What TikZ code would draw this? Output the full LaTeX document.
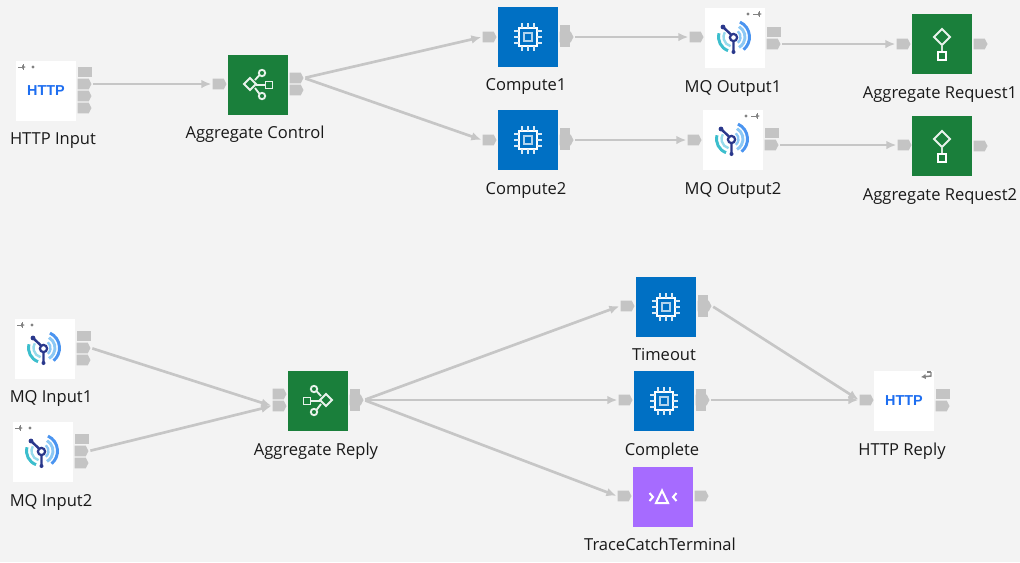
\documentclass[tikz,border=0pt]{standalone}
\usepackage{fontspec}
\setmainfont{Open Sans}
\newfontfamily\httpfont{Liberation Sans}
\usetikzlibrary{arrows.meta}
\usetikzlibrary{shapes.symbols}
\definecolor{bgcol}{RGB}{243,243,243}
\definecolor{termcol}{RGB}{196,196,196}
\definecolor{wirecol}{RGB}{198,198,198}
\definecolor{greencol}{RGB}{26,127,59}
\definecolor{bluecol}{RGB}{0,112,196}
\definecolor{purplecol}{RGB}{166,107,255}
\definecolor{navycol}{RGB}{42,56,140}
\definecolor{httpcol}{RGB}{30,110,240}
\definecolor{markcol}{RGB}{130,130,130}
\definecolor{arcouter}{RGB}{74,148,240}
\definecolor{arcinner}{RGB}{140,200,245}
\definecolor{arcteal}{RGB}{60,190,205}
\definecolor{arcpale}{RGB}{150,218,235}
\tikzset{every picture/.style={line width=0.75pt}}
\tikzset{
  every pic/.style={yscale=-1},
  box/.style={minimum size=45pt,inner sep=0pt,draw=none},
  whitebox/.style={box,fill=white},
  greenbox/.style={box,fill=greencol},
  bluebox/.style={box,fill=bluecol},
  purplebox/.style={box,fill=purplecol},
  termptr/.style={signal,signal to=east,signal pointer angle=125,fill=termcol,draw=none,inner sep=0pt,minimum width=10.5pt,minimum height=8pt,anchor=west},
  termsq/.style={fill=termcol,draw=none,inner sep=0pt,minimum width=10.5pt,minimum height=7.5pt,anchor=west},
  termblk/.style={fill=termcol,draw=none,inner sep=0pt,minimum width=7.5pt,minimum height=16.5pt,anchor=west},
  wire/.style={draw=wirecol,line width=2pt,-{Latex[length=7.5pt,width=6.5pt]},shorten >=0.5pt,shorten <=1pt},
  lbl/.style={inner sep=0pt,anchor=base,font=\fontsize{12.4}{15}\selectfont,text=black!90},
  httplbl/.style={inner sep=0pt,font=\httpfont\bfseries\fontsize{10.8}{13}\selectfont,text=httpcol},
  cpuicon/.pic={
    \draw[white,line width=1.3pt] (-9,-9) rectangle (9,9);
    \draw[white!70!bluecol,line width=1.8pt] (-4,-4) rectangle (4,4);
    \foreach \p in {-6,0,6} {
      \draw[white!85!bluecol,line width=1.3pt] (\p,-9) -- (\p,-14) (\p,9) -- (\p,14) (-9,\p) -- (-14,\p) (9,\p) -- (14,\p);
    }
  },
  aggicon/.pic={
    \draw[white!90!greencol,line width=1.4pt] (-8,-7) -- (-2,-1) -- (-8,5) -- (-14,-1) -- cycle;
    \draw[white!90!greencol,line width=1.4pt] (-3,-5) -- (1.5,-10) (-2,0) -- (7,0) (-3,3) -- (1.5,9);
    \draw[white!90!greencol,line width=1.4pt] (4,-12) circle (3.2) (4,11) circle (3.2);
    \draw[white!90!greencol,line width=1.4pt] (7.5,-3.5) rectangle (14.5,3.5);
  },
  reqicon/.pic={
    \draw[white!90!greencol,line width=1.4pt] (0,-15) -- (8,-7) -- (0,1) -- (-8,-7) -- cycle;
    \draw[white!80!greencol,line width=1.4pt] (0,1) -- (0,8);
    \draw[white,line width=1.4pt] (-3.8,8) rectangle (3.8,16);
  },
  traceicon/.pic={
    \draw[white,line width=1.5pt] (-1,-6.5) -- (5,6) -- (-7,6) -- cycle;
    \draw[white,line width=1.5pt] (-13.5,-4) -- (-10,0) -- (-13.5,4) (13.5,-4) -- (10,0) -- (13.5,4);
  },
  mqicon/.pic={
    \draw[arcouter,line width=2.2pt] (-2,-1) ++(-65:16.5) arc[start angle=-65,end angle=50,radius=16.5];
    \draw[arcinner,line width=2.2pt] (-2,-1) ++(-60:12) arc[start angle=-60,end angle=60,radius=12];
    \draw[arcinner,line width=1.8pt] (-2,-1) ++(-50:7.5) arc[start angle=-50,end angle=50,radius=7.5];
    \draw[arcteal,line width=2.2pt] (-2,-1) ++(110:14.5) arc[start angle=110,end angle=195,radius=14.5];
    \draw[arcpale,line width=1.8pt] (-2,-1) ++(105:9.5) arc[start angle=105,end angle=210,radius=9.5];
    \draw[navycol,line width=1.8pt] (-4,-3.5) -- (-12,-11) (-1.5,3) -- (-1.5,14);
    \fill[navycol] (-12,-11) circle (2.4) (-1.5,14) circle (2);
    \draw[navycol,fill=white,line width=1.7pt] (-1.5,-0.5) circle (3.6);
  },
  inmark/.pic={
    \draw[markcol,line width=0.7pt,-{Latex[length=3pt,width=3pt]}] (-28,-24) -- (-20,-24);
    \draw[markcol,line width=0.7pt] (-23,-27) -- (-23,-21);
    \fill[markcol] (-13,-24) circle (1.7);
  },
  outmark/.pic={
    \fill[markcol] (13,-24) circle (1.7);
    \draw[markcol,line width=0.7pt,-{Latex[length=3pt,width=3pt]}] (18,-24) -- (27,-24);
    \draw[markcol,line width=0.7pt] (24,-27) -- (24,-21);
  },
  replymark/.pic={
    \draw[markcol,line width=1.1pt,-{Latex[length=3.5pt,width=4pt]}] (27,-29) -- (27,-25) -- (17,-24);
    \draw[markcol,line width=1.1pt] (27,-29) -- (23,-29);
  }
}

\begin{document}
\begin{tikzpicture}[x=0.75pt,y=0.75pt,yscale=-1,xscale=1]
\useasboundingbox (0,0) rectangle (1020,562);
\fill[bgcol] (0,0) rectangle (1020,562);

%Shape: Square boxes
\node[whitebox] (httpin) at (46,91) {};
\node[greenbox] (aggctl) at (258,85) {};
\node[bluebox] (comp1) at (528,37) {};
\node[bluebox] (comp2) at (528,140) {};
\node[whitebox] (mqout1) at (735,38) {};
\node[whitebox] (mqout2) at (733,140) {};
\node[greenbox] (aggreq1) at (942,44) {};
\node[greenbox] (aggreq2) at (942,146) {};
\node[whitebox] (mqin1) at (45,349) {};
\node[whitebox] (mqin2) at (43,452) {};
\node[greenbox] (aggrep) at (318,401) {};
\node[bluebox] (tmout) at (666,307) {};
\node[bluebox] (compl) at (664,401) {};
\node[purplebox] (trace) at (663,497) {};
\node[whitebox] (httprep) at (904,401) {};

%Shape: Icons
\node[httplbl] (httpintxt) at (46,91) {HTTP};
\node[httplbl] (httpreptxt) at (904,401) {HTTP};
\pic at (httpin) {inmark};
\pic at (httprep) {replymark};
\pic at (aggctl) {aggicon};
\pic[xscale=-1] at (aggrep) {aggicon};
\pic at (comp1) {cpuicon};
\pic at (comp2) {cpuicon};
\pic at (tmout) {cpuicon};
\pic at (compl) {cpuicon};
\pic at (mqout1) {mqicon};
\pic at (mqout1) {outmark};
\pic at (mqout2) {mqicon};
\pic at (mqout2) {outmark};
\pic at (mqin1) {mqicon};
\pic at (mqin1) {inmark};
\pic at (mqin2) {mqicon};
\pic at (mqin2) {inmark};
\pic at (aggreq1) {reqicon};
\pic at (aggreq2) {reqicon};
\pic at (trace) {traceicon};

%Shape: Terminals
\node[termsq] (httpin_a) at (77,72) {};
\node[termptr] (httpin_b) at (77,84) {};
\node[termptr] (httpin_c) at (77,96) {};
\node[termptr] (httpin_d) at (77,108) {};
\node[termptr] (aggctl_i) at (212,84) {};
\node[termptr] (aggctl_a) at (289,78) {};
\node[termptr] (aggctl_b) at (289,90) {};
\node[termptr] (comp1_i) at (482,37) {};
\node[termblk] at (559,36) {};
\node[termptr] (comp1_o) at (559,37) {};
\node[termptr] (comp2_i) at (482,140) {};
\node[termblk] at (559,139) {};
\node[termptr] (comp2_o) at (559,140) {};
\node[termptr] (mqout1_i) at (689,37) {};
\node[termsq] (mqout1_a) at (766,32) {};
\node[termptr] (mqout1_b) at (766,44) {};
\node[termptr] (mqout2_i) at (687,140) {};
\node[termsq] (mqout2_a) at (764,133) {};
\node[termptr] (mqout2_b) at (764,145) {};
\node[termptr] (aggreq1_i) at (896,44) {};
\node[termptr] (aggreq1_o) at (973,44) {};
\node[termptr] (aggreq2_i) at (897,145) {};
\node[termptr] (aggreq2_o) at (973,146) {};
\node[termsq] (mqin1_a) at (76,336) {};
\node[termptr] (mqin1_b) at (76,348) {};
\node[termptr] (mqin1_c) at (76,360) {};
\node[termsq] (mqin2_a) at (74,439) {};
\node[termptr] (mqin2_b) at (74,451) {};
\node[termptr] (mqin2_c) at (74,463) {};
\node[termptr] (aggrep_a) at (272,394) {};
\node[termptr] (aggrep_b) at (272,406) {};
\node[termblk] at (349,400) {};
\node[termptr] (aggrep_o) at (349,400) {};
\node[termptr] (tmout_i) at (620,306) {};
\node[termblk] at (697,306) {};
\node[termptr] (tmout_o) at (697,306) {};
\node[termptr] (compl_i) at (618,400) {};
\node[termblk] at (695,400) {};
\node[termptr] (compl_o) at (695,400) {};
\node[termptr] (trace_i) at (617,496) {};
\node[termptr] (trace_o) at (694,496) {};
\node[termptr] (httprep_i) at (859,400) {};
\node[termsq] (httprep_a) at (935,394) {};
\node[termptr] (httprep_b) at (935,406) {};

%Straight Lines
\draw[wire] (httpin_b.east) -- (aggctl_i.west);
\draw[wire] (aggctl_a.east) -- (comp1_i.west);
\draw[wire] (aggctl_a.east) -- (comp2_i.west);
\draw[wire] (comp1_o.east) -- (mqout1_i.west);
\draw[wire] (comp2_o.east) -- (mqout2_i.west);
\draw[wire] (mqout1_b.east) -- (aggreq1_i.west);
\draw[wire] (mqout2_b.east) -- (aggreq2_i.west);
\draw[wire] (mqin1_b.east) -- (aggrep_b.west);
\draw[wire] (mqin2_b.east) -- (aggrep_b.west);
\draw[wire] (aggrep_o.east) -- (tmout_i.west);
\draw[wire] (aggrep_o.east) -- (compl_i.west);
\draw[wire] (aggrep_o.east) -- (trace_i.west);
\draw[wire] (tmout_o.east) -- (httprep_i.west);
\draw[wire] (compl_o.east) -- (httprep_i.west);

% Text Node
\node[lbl] (httpinlbl) at (53,144) {HTTP Input};
\node[lbl] (aggctllbl) at (255,138) {Aggregate Control};
\node[lbl] (comp1lbl) at (526,90) {Compute1};
\node[lbl] (comp2lbl) at (526,194) {Compute2};
\node[lbl] (mqout1lbl) at (733,92) {MQ Output1};
\node[lbl] (mqout2lbl) at (733,194) {MQ Output2};
\node[lbl] (aggreq1lbl) at (940,98) {Aggregate Request1};
\node[lbl] (aggreq2lbl) at (940,200) {Aggregate Request2};
\node[lbl] (mqin1lbl) at (51,402) {MQ Input1};
\node[lbl] (mqin2lbl) at (51,506) {MQ Input2};
\node[lbl] (aggreplbl) at (316,455) {Aggregate Reply};
\node[lbl] (tmoutlbl) at (664,360) {Timeout};
\node[lbl] (compllbl) at (662,455) {Complete};
\node[lbl] (httpreplbl) at (902,455) {HTTP Reply};
\node[lbl] (tracelbl) at (660,550) {TraceCatchTerminal};

\end{tikzpicture}
\end{document}
